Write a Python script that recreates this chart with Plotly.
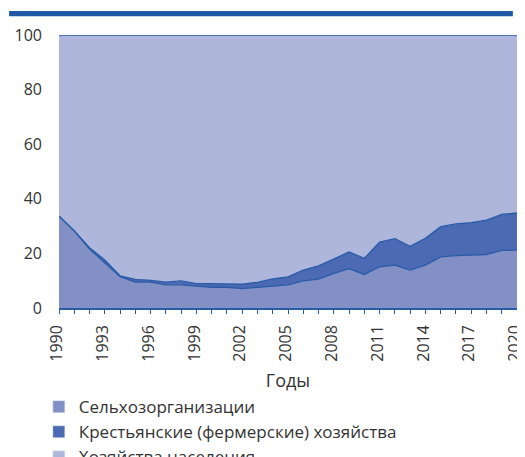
import plotly.graph_objects as go

years = list(range(1990, 2021))

# доли, % (снизу вверх)
selkhoz = [33.7, 28.3, 21.6, 16.4, 11.5, 9.5, 9.5, 8.5, 8.5, 8.0, 7.6,
           7.6, 7.1, 7.6, 8.0, 8.5, 9.9, 10.6, 12.7, 14.4, 12.3,
           15.1, 15.7, 13.9, 15.7, 18.7, 19.2, 19.5, 19.6, 21.1, 21.2]
fermery = [0.0, 0.0, 0.5, 1.2, 0.3, 1.0, 0.6, 1.0, 1.4, 0.9, 1.3,
           1.3, 1.6, 1.8, 2.7, 2.9, 4.0, 4.8, 5.2, 6.1, 5.9,
           9.0, 9.7, 8.7, 9.8, 11.1, 11.6, 11.8, 12.6, 13.2, 13.6]
naselenie = [round(100 - a - b, 1) for a, b in zip(selkhoz, fermery)]

names = ["Сельхозорганизации", "Крестьянские (фермерские) хозяйства", "Хозяйства населения"]
fills = ["#8390c6", "#4c69b3", "#aeb6db"]

fig = go.Figure()
for name, vals, col in zip(names, [selkhoz, fermery, naselenie], fills):
    fig.add_trace(go.Scatter(
        x=years, y=vals, name=name, mode="lines", stackgroup="one",
        line=dict(color="#2a5ba8", width=1.3), fillcolor=col,
        showlegend=False,
    ))
# квадратики для легенды
for name, col in zip(names, fills):
    fig.add_trace(go.Bar(x=[None], y=[None], name=name, marker_color=col,
                         showlegend=True))

# страница добавляет отступ 8px слева и сверху
fig.update_layout(
    width=525, height=457,
    margin=dict(l=51, r=16, t=27, b=157, autoexpand=False),
    plot_bgcolor="white", paper_bgcolor="white",
    font=dict(family="Open Sans", size=16, color="#333333"),
    showlegend=True,
    legend=dict(orientation="v", x=-0.044, xanchor="left", y=-0.297, yanchor="top",
                font=dict(size=17), tracegroupgap=0, traceorder="normal"),
    shapes=[dict(type="rect", xref="paper", yref="paper",
                 x0=-0.109, x1=0.991, y0=1.069, y1=1.088,
                 fillcolor="#1f58a6", line=dict(width=0))],
)
fig.update_xaxes(
    range=[1990, 2020], tickmode="array", tickvals=years,
    ticktext=[str(y) if (y - 1990) % 3 == 0 else "" for y in years],
    tickangle=-90, ticks="outside", ticklen=4, tickcolor="#2a5ba8",
    showline=True, linecolor="#2a5ba8", linewidth=1.5,
    showgrid=False, zeroline=False, automargin=False,
    ticklabeloverflow="allow", ticklabelstandoff=5, ticklabelshift=-2,
    title=dict(text="Годы", font=dict(size=18), standoff=14),
)
fig.update_yaxes(
    range=[0, 100], tickvals=[0, 20, 40, 60, 80, 100],
    showgrid=False, zeroline=False, showline=False, automargin=False,
    ticklabelstandoff=16,
)

fig.write_html("out.html")
